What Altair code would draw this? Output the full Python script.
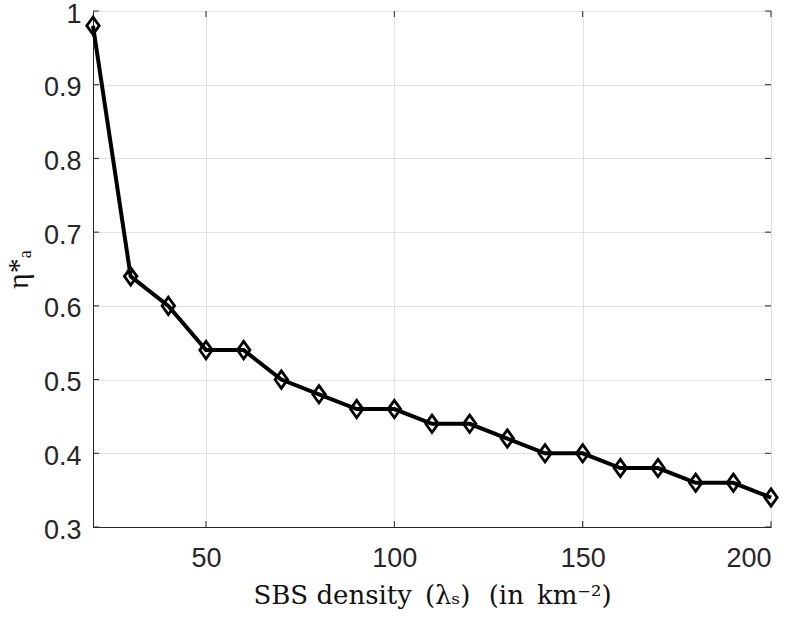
import altair as alt
import pandas as pd

density = [20, 30, 40, 50, 60, 70, 80, 90, 100, 110, 120, 130, 140, 150, 160, 170, 180, 190, 200]
eta = [0.98, 0.64, 0.60, 0.54, 0.54, 0.50, 0.48, 0.46, 0.46, 0.44, 0.44, 0.42, 0.40, 0.40, 0.38, 0.38, 0.36, 0.36, 0.34]
x_ticks = [50, 100, 150, 200]
y_ticks = [0.3, 0.4, 0.5, 0.6, 0.7, 0.8, 0.9, 1.0]

W, H = 678, 516
AXC = "#262626"

df = pd.DataFrame({"x": density, "y": eta})
dfx = pd.DataFrame({"x": x_ticks})
dfy = pd.DataFrame({"y": y_ticks})

xscale = alt.Scale(domain=[20, 200], nice=False, zero=False)
yscale = alt.Scale(domain=[0.3, 1.0], nice=False, zero=False)

xaxis = alt.Axis(values=x_ticks, grid=True, gridColor="#e2e2e2", gridWidth=1,
                 domainColor=AXC, domainWidth=1, tickSize=0,
                 labelFont="Liberation Sans", labelFontSize=27, labelColor=AXC,
                 labelPadding=18,
                 title="SBS density\u2002(λₛ)\u2002\u2009(in\u2002km⁻²)", titleFont="DejaVu Serif",
                 titleFontSize=26, titleFontWeight="normal", titleColor="#111111",
                 titlePadding=11)
yaxis = alt.Axis(values=y_ticks, grid=True, gridColor="#e2e2e2", gridWidth=1,
                 domainColor=AXC, domainWidth=1, tickSize=0, format=".1~f",
                 labelFont="Liberation Sans", labelFontSize=27, labelColor=AXC,
                 labelPadding=12, labelOffset=3,
                 title="η*ₐ", titleFont="Liberation Serif",
                 titleFontSize=30, titleFontWeight="normal", titleColor="#111111",
                 titlePadding=10)

base = alt.Chart(df)
line = base.mark_line(color="black", strokeWidth=4).encode(
    x=alt.X("x:Q", scale=xscale, axis=xaxis),
    y=alt.Y("y:Q", scale=yscale, axis=yaxis),
)
pts = base.mark_point(shape="M0,-1L0.72,0L0,1L-0.72,0Z", filled=False, color="black",
                      strokeWidth=2.8, size=300, opacity=1).encode(
    x=alt.X("x:Q", scale=xscale),
    y=alt.Y("y:Q", scale=yscale),
)

tk = 6
xt_bottom = alt.Chart(dfx).mark_rule(color=AXC, strokeWidth=1).encode(
    x=alt.X("x:Q", scale=xscale), y=alt.value(H - tk), y2=alt.value(H))
xt_top = alt.Chart(dfx).mark_rule(color=AXC, strokeWidth=1).encode(
    x=alt.X("x:Q", scale=xscale), y=alt.value(0), y2=alt.value(tk))
yt_left = alt.Chart(dfy).mark_rule(color=AXC, strokeWidth=1).encode(
    y=alt.Y("y:Q", scale=yscale), x=alt.value(0), x2=alt.value(tk))
yt_right = alt.Chart(dfy).mark_rule(color=AXC, strokeWidth=1).encode(
    y=alt.Y("y:Q", scale=yscale), x=alt.value(W - tk), x2=alt.value(W))

chart = alt.layer(xt_bottom, xt_top, yt_left, yt_right, line, pts).properties(
    width=W, height=H,
    autosize=alt.AutoSizeParams(type="none"),
    padding={"left": 93, "top": 11, "right": 25, "bottom": 90},
    background="white",
).configure_view(stroke=AXC, strokeWidth=1)

chart.save("out.html", embed_options={"renderer": "svg", "actions": False})
